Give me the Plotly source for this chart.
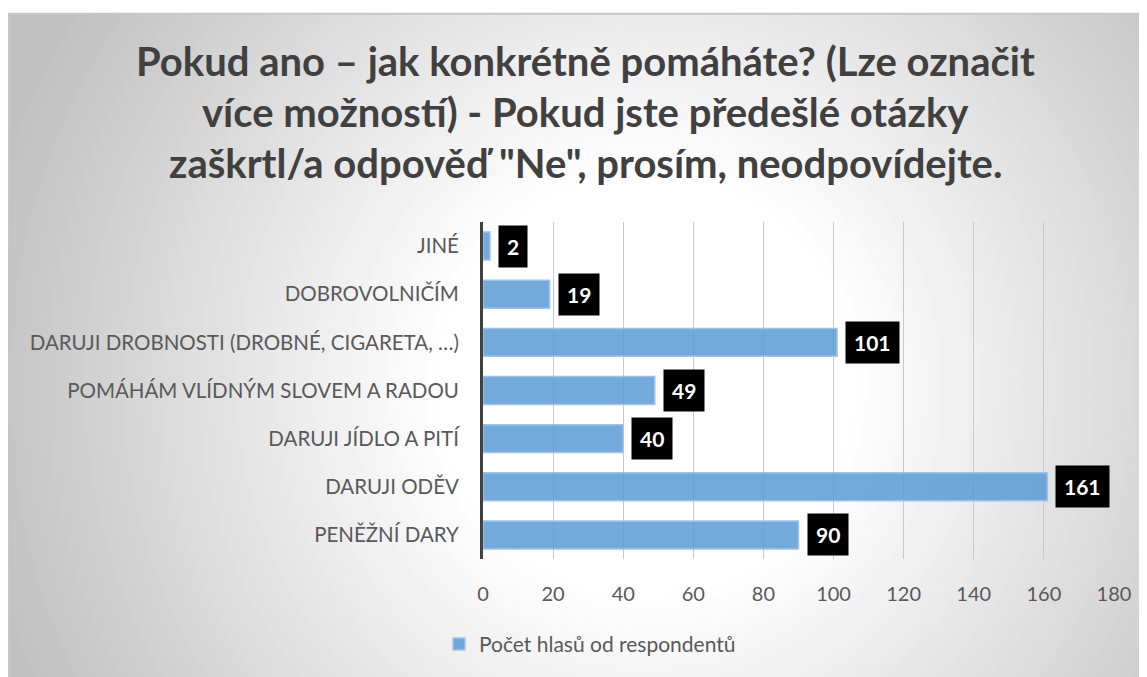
import base64
import plotly.graph_objects as go

categories = [
    "JINÉ",
    "DOBROVOLNIČÍM",
    "DARUJI DROBNOSTI (DROBNÉ, CIGARETA, …)",
    "POMÁHÁM VLÍDNÝM SLOVEM A RADOU",
    "DARUJI JÍDLO A PITÍ",
    "DARUJI ODĚV",
    "PENĚŽNÍ DARY",
]
votes = [2, 19, 101, 49, 40, 161, 90]
series_name = "Počet hlasů od respondentů"
title_lines = [
    "Pokud ano – jak konkrétně pomáháte? (Lze označit",
    "více možností) - Pokud jste předešlé otázky",
    "zaškrtl/a odpověď \"Ne\", prosím, neodpovídejte.",
]

# page body has an 8px margin, so the figure is sized/offset for that
OFF = 8
W, H = 1147 - OFF, 677 - OFF
L, T = 483 - OFF, 222 - OFF
R, B = W - (1114 - OFF), H - (562 - OFF)
pw, ph = W - L - R, H - T - B
FONT = "Lato"


def px_to_paper(x, y):
    # x, y in reference-screenshot pixels
    x, y = x - OFF, y - OFF
    return (x - L) / pw, (H - B - y) / ph


# radial-gradient chart frame as an svg image
fx0, fy0, fx1, fy1 = 9, 12, 1147, 677
fw, fh = fx1 - fx0, fy1 - fy0
svg = (
    f'<svg xmlns="http://www.w3.org/2000/svg" width="{fw}" height="{fh}">'
    f'<defs><radialGradient id="g" gradientUnits="userSpaceOnUse" cx="{fw*0.56}" cy="{fh*0.55}" r="{fw*0.6}">'
    '<stop offset="0.3" stop-color="#ffffff"/><stop offset="1" stop-color="#c0c0c0"/>'
    '</radialGradient></defs>'
    f'<rect width="{fw}" height="{fh}" fill="url(#g)"/></svg>'
)
svg_uri = "data:image/svg+xml;base64," + base64.b64encode(svg.encode()).decode()
ix0, iy0 = px_to_paper(fx0, fy0)
ix1, iy1 = px_to_paper(fx1, fy1)

fig = go.Figure()
fig.add_trace(go.Bar(
    x=votes, y=categories, orientation="h", name=series_name,
    marker=dict(color="rgba(91,155,213,0.85)", line=dict(color="rgba(160,196,232,1)", width=1.5)),
    showlegend=True,
))

# black value labels
for cat, val in zip(categories, votes):
    fig.add_annotation(
        x=val, y=cat, text=f"<b>{val}</b>", showarrow=False,
        xanchor="left", xshift=8, bgcolor="black", borderpad=8,
        font=dict(family=FONT, size=21, color="white"),
    )

# title
title_y = [60, 111, 162]
for line, ty in zip(title_lines, title_y):
    ax, ay = px_to_paper(585, ty)
    fig.add_annotation(
        x=ax, y=ay, xref="paper", yref="paper", text=f"<b>{line}</b>", showarrow=False,
        xanchor="center", yanchor="middle",
        font=dict(family=FONT, size=40, color="#404040"),
    )

fig.add_layout_image(
    source=svg_uri, xref="paper", yref="paper", x=ix0, y=iy0,
    sizex=ix1 - ix0, sizey=iy0 - iy1 + 0.05, xanchor="left", yanchor="top",
    sizing="stretch", layer="below",
)
fig.add_shape(
    type="rect", xref="paper", yref="paper", x0=ix0, y0=iy1 - 0.08, x1=ix1 + 0.02, y1=iy0,
    line=dict(color="#c6c6c6", width=2), fillcolor="rgba(0,0,0,0)", layer="below",
)

lx, ly = px_to_paper(590, 648)
fig.update_layout(
    width=W, height=H,
    margin=dict(l=L, r=R, t=T, b=B),
    paper_bgcolor="white", plot_bgcolor="rgba(0,0,0,0)",
    bargap=0.42,
    font=dict(family=FONT, size=20, color="#595959"),
    xaxis=dict(
        range=[0, 180], dtick=20, showgrid=True, gridcolor="#c9c9c9", gridwidth=1,
        zeroline=False, showline=False, ticks="", ticklabelstandoff=21,
        tickfont=dict(family=FONT, size=20, color="#595959"),
    ),
    yaxis=dict(
        autorange="reversed", showline=True, linecolor="#404040", linewidth=3,
        ticks="", ticklabelstandoff=17, showgrid=False,
        tickfont=dict(family=FONT, size=20.5, color="#595959"),
    ),
    legend=dict(
        orientation="h", x=lx, y=ly, xanchor="center", yanchor="middle",
        font=dict(family=FONT, size=21, color="#595959"), bgcolor="rgba(0,0,0,0)",
    ),
)

fig.write_html("out.html")
